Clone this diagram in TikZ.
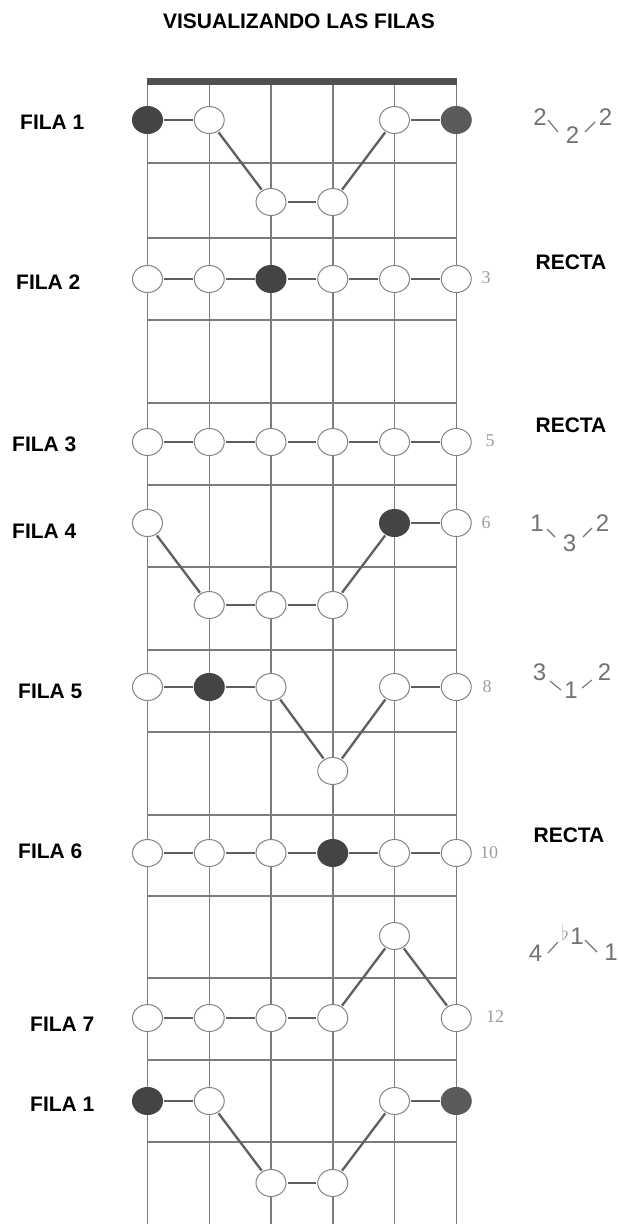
\documentclass[tikz,border=0pt]{standalone}
\usepackage{fontspec}
\setmainfont{Liberation Sans}
\newfontfamily\serifnum{Liberation Serif}
\usetikzlibrary{shapes.geometric}
\definecolor{gridgray}{HTML}{7C7C7C}
\definecolor{nutc}{HTML}{505050}
\definecolor{dotline}{HTML}{858585}
\definecolor{darkdot}{HTML}{444444}
\definecolor{darkdottwo}{HTML}{5A5A5A}
\definecolor{connc}{HTML}{5E5E5E}
\definecolor{numgray}{HTML}{9C9C9C}
\definecolor{formgray}{HTML}{727272}
\tikzset{
  stringline/.style={draw=gridgray, line width=1.5pt},
  fretline/.style={draw=gridgray, line width=1.5pt},
  wdot/.style={ellipse, draw=dotline, line width=1pt, fill=white, minimum width=30pt, minimum height=27pt, inner sep=0pt},
  bdot/.style={wdot, fill=darkdot, draw=darkdot},
  bdottwo/.style={wdot, fill=darkdottwo, draw=darkdottwo},
  conn/.style={draw=connc, line width=2.3pt, shorten <=1pt, shorten >=1pt},
  filalabel/.style={anchor=west, inner sep=0pt, font=\fontsize{21}{21}\selectfont\bfseries},
  rectalabel/.style={inner sep=0pt, font=\fontsize{21}{21}\selectfont\bfseries},
  titlelabel/.style={inner sep=0pt, font=\fontsize{21}{21}\selectfont\bfseries},
  fretnum/.style={text=numgray, inner sep=0pt, font=\serifnum\fontsize{18}{18}\selectfont},
  formula/.style={text=formgray, inner sep=0pt, font=\fontsize{24}{24}\selectfont},
  tickmark/.style={draw=formgray, line width=1.1pt}
}
\begin{document}
\begin{tikzpicture}[x=1pt,y=-1pt]
\useasboundingbox (0,0) rectangle (618,1224);
\fill[white] (0,0) rectangle (618,1224);
% title
\node[titlelabel] (title) at (299,21) {VISUALIZANDO LAS FILAS};
% strings and frets
\foreach \x in {147.5,209.25,271,332.75,394.5,456.25}
  \draw[stringline] (\x,85) -- (\x,1224);
\foreach \y in {163,238,320,403,485,567,650,732,815,896,978,1060,1142}
  \draw[fretline] (147.5,\y) -- (456.25,\y);
\fill[nutc] (146.75,77.5) rectangle (457,85);

% Fila 1 (top)
\node[bdot] (a1) at (147.5,120) {};
\node[wdot] (a2) at (209.25,120) {};
\node[wdot] (a5) at (394.5,120) {};
\node[bdottwo] (a6) at (456.25,120) {};
\node[wdot] (b3) at (271,202) {};
\node[wdot] (b4) at (332.75,202) {};
\draw[conn] (a1) -- (a2);
\draw[conn] (a2) -- (b3);
\draw[conn] (b3) -- (b4);
\draw[conn] (b4) -- (a5);
\draw[conn] (a5) -- (a6);

% Fila 2
\node[wdot] (c1) at (147.5,279) {};
\node[wdot] (c2) at (209.25,279) {};
\node[bdot] (c3) at (271,279) {};
\node[wdot] (c4) at (332.75,279) {};
\node[wdot] (c5) at (394.5,279) {};
\node[wdot] (c6) at (456.25,279) {};
\draw[conn] (c1) -- (c2);
\draw[conn] (c2) -- (c3);
\draw[conn] (c3) -- (c4);
\draw[conn] (c4) -- (c5);
\draw[conn] (c5) -- (c6);

% Fila 3
\node[wdot] (d1) at (147.5,442) {};
\node[wdot] (d2) at (209.25,442) {};
\node[wdot] (d3) at (271,442) {};
\node[wdot] (d4) at (332.75,442) {};
\node[wdot] (d5) at (394.5,442) {};
\node[wdot] (d6) at (456.25,442) {};
\draw[conn] (d1) -- (d2);
\draw[conn] (d2) -- (d3);
\draw[conn] (d3) -- (d4);
\draw[conn] (d4) -- (d5);
\draw[conn] (d5) -- (d6);

% Fila 4
\node[wdot] (e1) at (147.5,523) {};
\node[bdot] (e5) at (394.5,523) {};
\node[wdot] (e6) at (456.25,523) {};
\node[wdot] (f2) at (209.25,605) {};
\node[wdot] (f3) at (271,605) {};
\node[wdot] (f4) at (332.75,605) {};
\draw[conn] (e1) -- (f2);
\draw[conn] (f2) -- (f3);
\draw[conn] (f3) -- (f4);
\draw[conn] (f4) -- (e5);
\draw[conn] (e5) -- (e6);

% Fila 5
\node[wdot] (g1) at (147.5,687) {};
\node[bdot] (g2) at (209.25,687) {};
\node[wdot] (g3) at (271,687) {};
\node[wdot] (g5) at (394.5,687) {};
\node[wdot] (g6) at (456.25,687) {};
\node[wdot] (h4) at (332.75,771) {};
\draw[conn] (g1) -- (g2);
\draw[conn] (g2) -- (g3);
\draw[conn] (g3) -- (h4);
\draw[conn] (h4) -- (g5);
\draw[conn] (g5) -- (g6);

% Fila 6
\node[wdot] (i1) at (147.5,853) {};
\node[wdot] (i2) at (209.25,853) {};
\node[wdot] (i3) at (271,853) {};
\node[bdot] (i4) at (332.75,853) {};
\node[wdot] (i5) at (394.5,853) {};
\node[wdot] (i6) at (456.25,853) {};
\draw[conn] (i1) -- (i2);
\draw[conn] (i2) -- (i3);
\draw[conn] (i3) -- (i4);
\draw[conn] (i4) -- (i5);
\draw[conn] (i5) -- (i6);

% Fila 7
\node[wdot] (j5) at (394.5,936) {};
\node[wdot] (k1) at (147.5,1018) {};
\node[wdot] (k2) at (209.25,1018) {};
\node[wdot] (k3) at (271,1018) {};
\node[wdot] (k4) at (332.75,1018) {};
\node[wdot] (k6) at (456.25,1018) {};
\draw[conn] (k1) -- (k2);
\draw[conn] (k2) -- (k3);
\draw[conn] (k3) -- (k4);
\draw[conn] (k4) -- (j5);
\draw[conn] (j5) -- (k6);

% Fila 1 (bottom)
\node[bdot] (l1) at (147.5,1101) {};
\node[wdot] (l2) at (209.25,1101) {};
\node[wdot] (l5) at (394.5,1101) {};
\node[bdottwo] (l6) at (456.25,1101) {};
\node[wdot] (m3) at (271,1183) {};
\node[wdot] (m4) at (332.75,1183) {};
\draw[conn] (l1) -- (l2);
\draw[conn] (l2) -- (m3);
\draw[conn] (m3) -- (m4);
\draw[conn] (m4) -- (l5);
\draw[conn] (l5) -- (l6);

% left labels
\node[filalabel] (fl1) at (20,122) {FILA 1};
\node[filalabel] (fl2) at (16,282) {FILA 2};
\node[filalabel] (fl3) at (12,444) {FILA 3};
\node[filalabel] (fl4) at (12,531) {FILA 4};
\node[filalabel] (fl5) at (18,691) {FILA 5};
\node[filalabel] (fl6) at (18,851) {FILA 6};
\node[filalabel] (fl7) at (30,1024) {FILA 7};
\node[filalabel] (fl8) at (30,1104) {FILA 1};

% fret numbers
\node[fretnum] (n3) at (486,278) {3};
\node[fretnum] (n5) at (490,441) {5};
\node[fretnum] (n6) at (486,523) {6};
\node[fretnum] (n8) at (487,687) {8};
\node[fretnum] (n10) at (489,853) {10};
\node[fretnum] (n12) at (495,1017) {12};

% RECTA labels
\node[rectalabel] (r2) at (571,262) {RECTA};
\node[rectalabel] (r3) at (571,425) {RECTA};
\node[rectalabel] (r6) at (569,835) {RECTA};

% formula 2 2 2
\node[formula] (p1a) at (540,117) {2};
\node[formula] (p1b) at (572.5,135) {2};
\node[formula] (p1c) at (605.5,117.5) {2};
\draw[tickmark] (548,120) -- (558,132);
\draw[tickmark] (585,132) -- (595,122);

% formula 1 3 2
\node[formula] (p4a) at (537,523.5) {1};
\node[formula] (p4b) at (569.5,543.5) {3};
\node[formula] (p4c) at (602.5,523.5) {2};
\draw[tickmark] (547,529) -- (555,537);
\draw[tickmark] (583,537) -- (592,528);

% formula 3 1 2
\node[formula] (p5a) at (539.5,672.5) {3};
\node[formula] (p5b) at (571,690) {1};
\node[formula] (p5c) at (604.5,672.5) {2};
\draw[tickmark] (550,681) -- (561,690);
\draw[tickmark] (582,688) -- (592,680);

% formula 4 b1 1
\node[formula] (p7a) at (535.5,953.5) {4};
\node[text=numgray, inner sep=0pt, font=\fontsize{22}{22}\selectfont] (p7f) at (565,933) {$\flat$};
\node[formula] (p7b) at (577,936.5) {1};
\node[formula] (p7c) at (611,952.5) {1};
\draw[tickmark] (548,953) -- (558,942);
\draw[tickmark] (585,940) -- (597,952);
\end{tikzpicture}
\end{document}
